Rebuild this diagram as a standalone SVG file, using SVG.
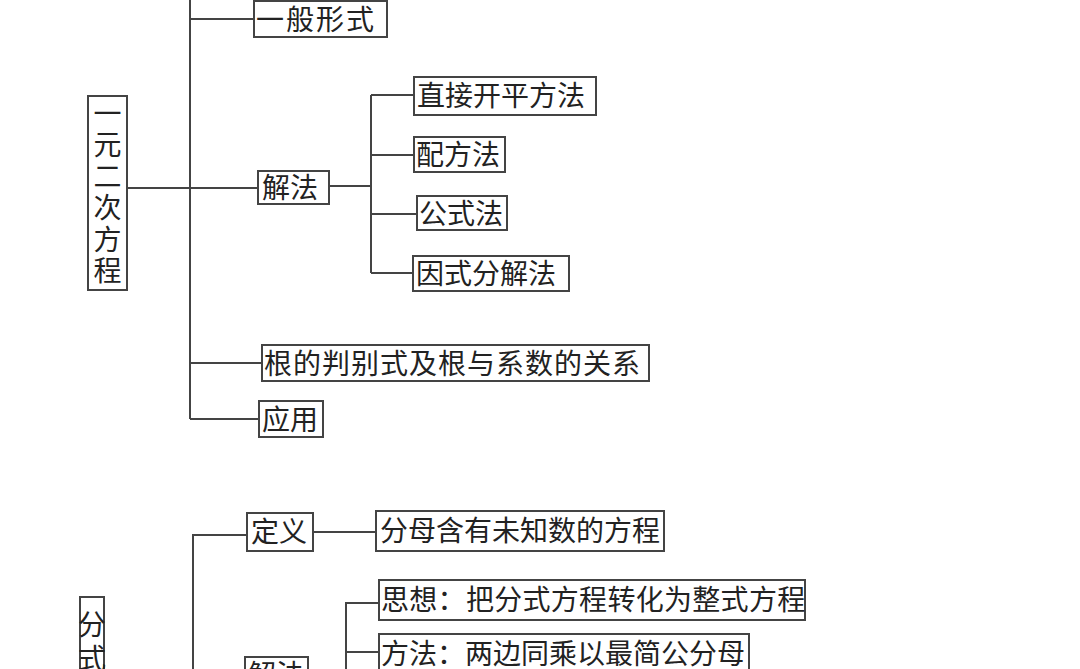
<svg xmlns="http://www.w3.org/2000/svg" width="1080" height="669" viewBox="0 0 1080 669">
<style>
.b{fill:#fff;stroke:#444;stroke-width:2}
.t{font-family:"Noto Sans CJK SC",sans-serif;font-size:28px;fill:#222}
.vt{writing-mode:vertical-rl;text-orientation:upright}
.c{fill:none;stroke:#444;stroke-width:2}
</style>
<rect width="1080" height="669" fill="#fff"/>
<g id="connectors" class="c">
<path d="M190 0V419M190 19H254M127 188H258M190 363H262M190 419H259"/>
<path d="M329 186H371M371 95V273M371 95H414M371 155H414M371 214H417M371 273H413"/>
<path d="M193 669V535H247M313 532H376M346 669V603H379M346 652H379"/>
</g>
<g id="n1"><rect class="b" x="88" y="96" width="39" height="194"/><text class="t vt" x="107.5" y="99" font-size="26" letter-spacing="3.5">一元二次方程</text></g>
<g id="n2"><rect class="b" x="254" y="1" width="133" height="36"/><text class="t" x="256" y="30" letter-spacing="2">一般形式</text></g>
<g id="n3"><rect class="b" x="258" y="171" width="71" height="33"/><text class="t" x="262" y="198">解法</text></g>
<g id="n4"><rect class="b" x="414" y="77" width="182" height="38"/><text class="t" x="417" y="106">直接开平方法</text></g>
<g id="n5"><rect class="b" x="414" y="137" width="91" height="35"/><text class="t" x="416" y="165">配方法</text></g>
<g id="n6"><rect class="b" x="417" y="196" width="90" height="34"/><text class="t" x="419" y="224">公式法</text></g>
<g id="n7"><rect class="b" x="413" y="256" width="156" height="35"/><text class="t" x="416" y="284">因式分解法</text></g>
<g id="n8"><rect class="b" x="262" y="345" width="387" height="36"/><text class="t" x="264" y="374" letter-spacing="1">根的判别式及根与系数的关系</text></g>
<g id="n9"><rect class="b" x="259" y="401" width="64" height="36"/><text class="t" x="262" y="430">应用</text></g>
<g id="n10"><rect class="b" x="80" y="597" width="24" height="80"/><text class="t vt" x="92" y="610" font-size="23" letter-spacing="6">分式</text></g>
<g id="n11"><rect class="b" x="247" y="513" width="66" height="38"/><text class="t" x="251" y="542">定义</text></g>
<g id="n12"><rect class="b" x="376" y="511" width="288" height="40"/><text class="t" x="380" y="541">分母含有未知数的方程</text></g>
<g id="n13"><rect class="b" x="245" y="657" width="63" height="30"/><text class="t" x="248" y="685">解法</text></g>
<g id="n14"><rect class="b" x="379" y="580" width="426" height="40"/><text class="t" x="381" y="610" letter-spacing="0.3">思想：把分式方程转化为整式方程</text></g>
<g id="n15"><rect class="b" x="379" y="634" width="370" height="40"/><text class="t" x="381" y="664">方法：两边同乘以最简公分母</text></g>
</svg>
